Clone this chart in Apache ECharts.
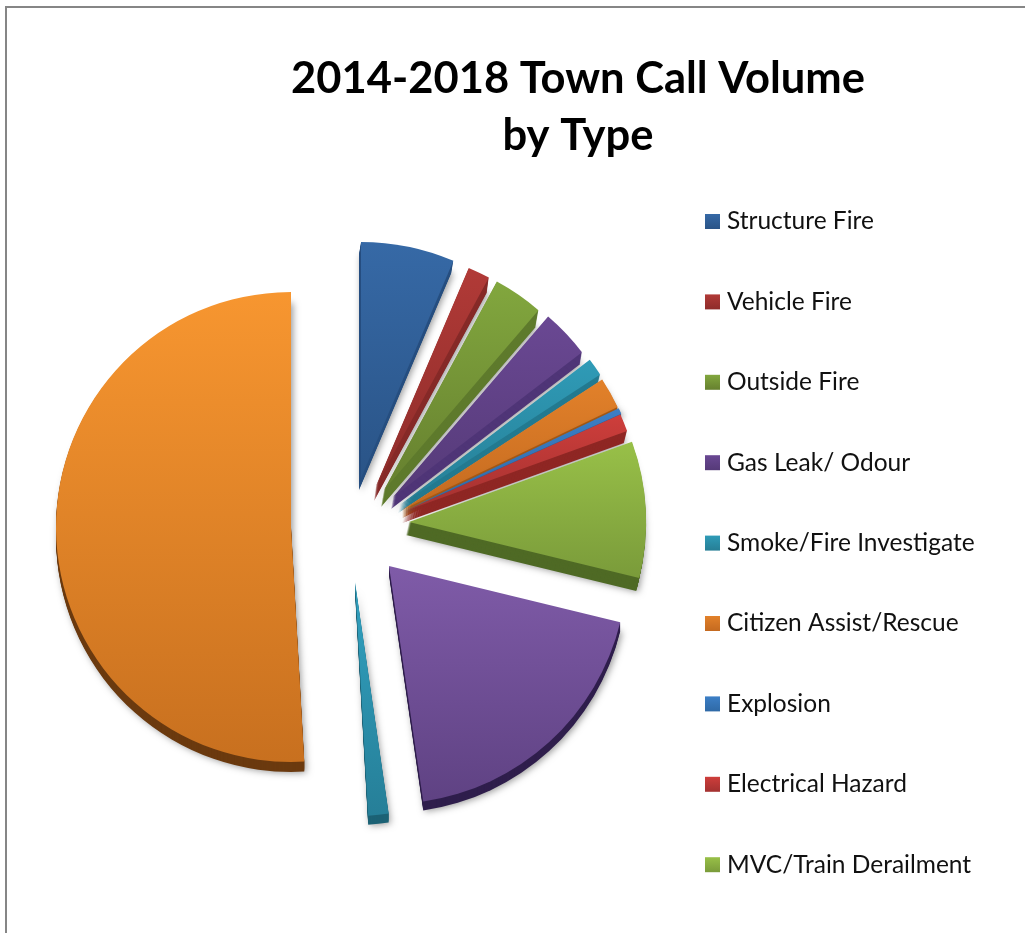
<!DOCTYPE html>
<html>
<head>
<meta charset="utf-8">
<style>html,body{margin:0;padding:0;background:#fff}#chart{width:1025px;height:933px}</style>
<script src="https://cdn.jsdelivr.net/npm/echarts@6/dist/echarts.min.js"></script>
</head>
<body>
<div id="chart"></div>
<script>
// Share of calls per type, percent of the 2014-2018 total
const categories = ['Structure Fire','Vehicle Fire','Outside Fire','Gas Leak/ Odour','Smoke/Fire Investigate','Citizen Assist/Rescue','Explosion','Electrical Hazard','MVC/Train Derailment','Type 10','Type 11','Type 12'];
const values = [6.4,1.5,3.4,3.3,1.2,2.1,0.4,1.2,9.3,18.9,1.4,50.9];
const legendCount = 9;

// Exploded slice placement: apex x, apex y, radius, extrusion depth and sideways lean
const apexX  = [361,376,384,393,400,402,404,405,409,389,355,291];
const apexY  = [478,486,490,497,505,510,511,511,522,566,582,527];
const radii  = [236,237,237,238,239,239,238,236,237,238,234,235];
const depths = [12,15,17,12,8,8,3,12,13,9,9,10];
const leans  = [-2,-2,-3,-2,-2,0,0,-3,-3,0,0,0];

// Face gradient (top, bottom) and side wall colour per slice
const faceTop    = ['#3669a6','#b13a37','#82a73e','#6a4893','#2f9bb7','#e2812a','#3c7fc6','#ce3e3b','#98c048','#7f5ba8','#31a1c0','#f79630'];
const faceBottom = ['#2a5487','#8e2c2a','#66802f','#553a78','#267e95','#c46a20','#2f69a6','#a33130','#7a9b3a','#5f4283','#267f98','#c8701f'];
const wallColors = ['#274f80','#862a28','#5e7a2c','#4f3577','#237a90','#a85a15','#2b5e97','#8f2724','#4f6a25','#2f1e4c','#1c6275','#6b3a0f'];

const total = values.reduce((a, b) => a + b, 0);
const gradient = (top, bottom) => ({
  type: 'linear', x: 0, y: 0, x2: 0, y2: 1,
  colorStops: [{offset: 0, color: top}, {offset: 1, color: bottom}]
});

// One sector plus an invisible remainder, so each slice can sit on its own centre
function sliceSeries(i, startAngle, dx, dy, color, shadow, name) {
  return {
    type: 'pie',
    silent: true,
    animation: false,
    center: [apexX[i] + dx, apexY[i] + dy],
    radius: [0, radii[i]],
    startAngle: startAngle,
    avoidLabelOverlap: false,
    label: {show: false},
    labelLine: {show: false},
    emphasis: {disabled: true},
    data: [
      {name: name, value: values[i], itemStyle: Object.assign({color: color}, shadow)},
      {name: '', value: total - values[i], itemStyle: {color: 'transparent'}}
    ]
  };
}

const series = [];
let swept = 0;
values.forEach((v, i) => {
  const start = 90 - swept;
  // Side wall: the sector repeated downwards, the lowest copy carrying the soft shadow
  for (let d = depths[i]; d >= 1; d--) {
    const shadow = d === depths[i]
      ? {shadowBlur: 7, shadowColor: 'rgba(0,0,0,0.4)', shadowOffsetX: 2, shadowOffsetY: 1}
      : {};
    series.push(sliceSeries(i, start, leans[i] * d / depths[i], d, wallColors[i], shadow, ''));
  }
  series.push(sliceSeries(i, start, 0, 0, gradient(faceTop[i], faceBottom[i]), {}, categories[i]));
  swept += v / total * 360;
});

const chart = echarts.init(document.getElementById('chart'), null, {renderer: 'canvas'});
chart.setOption({
  backgroundColor: '#ffffff',
  animation: false,
  title: {
    text: '2014-2018 Town Call Volume\nby Type',
    left: 573,
    top: 45,
    textAlign: 'center',
    textStyle: {fontFamily: 'Lato', fontWeight: 'bold', fontSize: 43.5, lineHeight: 57, color: '#000000'}
  },
  legend: {
    orient: 'vertical',
    left: 700,
    top: 204,
    icon: 'rect',
    itemWidth: 15,
    itemHeight: 15,
    itemGap: 55.4,
    selectedMode: false,
    data: categories.slice(0, legendCount),
    textStyle: {fontFamily: 'Lato', fontSize: 24.5, color: '#111111', padding: [0, 0, 0, 2], lineHeight: 24}
  },
  graphic: [{
    type: 'rect', silent: true, z: -10,
    shape: {x: 6, y: 7, width: 1200, height: 1200},
    style: {fill: 'none', stroke: '#868686', lineWidth: 2}
  }],
  series: series
});
</script>
</body>
</html>
